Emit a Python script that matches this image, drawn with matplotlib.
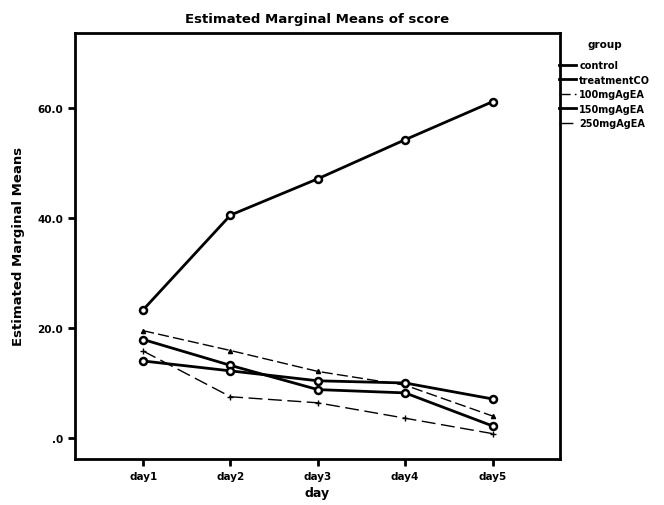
import matplotlib.pyplot as plt

# days and estimated marginal means per group
days = ['day1', 'day2', 'day3', 'day4', 'day5']
control = [17.9, 13.2, 8.8, 8.2, 2.2]
treatmentCO = [23.3, 40.5, 47.1, 54.2, 61.1]
mg100 = [19.5, 15.9, 12.1, 9.6, 4.0]
mg150 = [14.0, 12.2, 10.4, 10.0, 7.1]
mg250 = [15.8, 7.5, 6.4, 3.6, 0.8]

yticks = [0, 20, 40, 60]
ytick_labels = ['.0', '20.0', '40.0', '60.0']

fig = plt.figure(figsize=(6.64, 5.06), dpi=100)
ax = fig.add_axes([0.113, 0.091, 0.730, 0.842])

x = list(range(1, len(days) + 1))

# thick solid lines with open circles, thin dashed lines for two groups
ax.plot(x, control, color='black', lw=2, marker='o', ms=5, mfc='white', mew=1.8, label='control')
ax.plot(x, treatmentCO, color='black', lw=2, marker='o', ms=5, mfc='white', mew=1.8, label='treatmentCO')
ax.plot(x, mg100, color='black', lw=1, ls=(0, (8, 3)), marker='^', ms=3, label='100mgAgEA')
ax.plot(x, mg150, color='black', lw=2, marker='o', ms=5, mfc='white', mew=1.8, label='150mgAgEA')
ax.plot(x, mg250, color='black', lw=1, ls=(0, (10, 4)), marker='+', ms=4, label='250mgAgEA')

ax.set_xlim(0.22, 5.77)
ax.set_ylim(-3.8, 73.6)
ax.set_xticks(x)
ax.set_xticklabels(days, fontsize=7.5, fontweight='bold')
ax.set_yticks(yticks)
ax.set_yticklabels(ytick_labels, fontsize=7.5, fontweight='bold')
ax.tick_params(direction='out', length=5, width=2)

for s in ax.spines.values():
    s.set_linewidth(2)

ax.set_title('Estimated Marginal Means of score', fontsize=9.5, fontweight='bold', pad=8)
ax.set_xlabel('day', fontsize=9, fontweight='bold')
ax.set_ylabel('Estimated Marginal Means', fontsize=9.5, fontweight='bold', labelpad=9)

leg = ax.legend(title='group', loc='upper left', bbox_to_anchor=(0.998, 0.985),
                frameon=False, fontsize=7, handlelength=1.8, handletextpad=0.3,
                labelspacing=0.45, borderaxespad=0, borderpad=0, markerscale=0)
leg.get_title().set_fontweight('bold')
leg.get_title().set_fontsize(7.5)
leg._legend_box.sep = 8
for t in leg.get_texts():
    t.set_fontweight('bold')

fig.savefig('out.png', dpi=100)
